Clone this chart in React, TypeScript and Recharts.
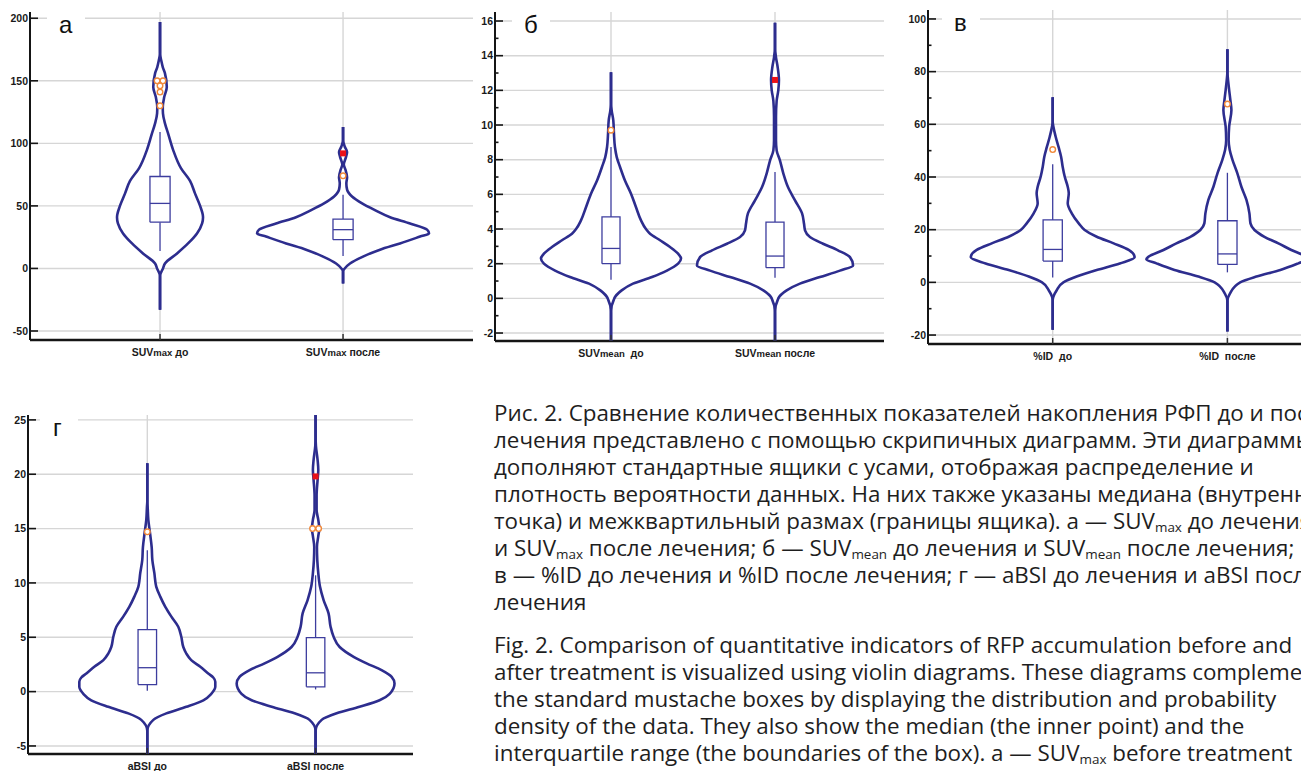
import React from 'react';
import { ScatterChart, Scatter, XAxis, YAxis, CartesianGrid } from 'recharts';

type Profile = [number, number][]; // [value, half-width in category units]
type Stats = [number, number, number, number, number]; // whisker lo, q1, median, q3, whisker hi
type Points = [number, number][]; // [x jitter, value]

// ---- panel а: SUVmax ----
const suvMaxLabels = [['SUV', 'max', ' до'], ['SUV', 'max', ' после']];
const suvMaxTicks = [-50, 0, 50, 100, 150, 200];
const suvMaxBefore: Profile = [
  [-33, 0], [-6, 0], [0, 0.016], [4, 0.027], [12, 0.093], [20, 0.153], [28, 0.202], [36, 0.23], [41, 0.235],
  [50, 0.219], [60, 0.191], [70, 0.164], [80, 0.115], [95, 0.071], [108, 0.044], [116, 0.027], [124, 0.016],
  [129, 0.015], [137, 0.023], [145, 0.037], [156, 0.027], [161, 0.015], [166, 0.007], [172, 0], [197, 0],
];
const suvMaxAfter: Profile = [
  [-12, 0], [-2, 0], [0, 0.009], [4, 0.038], [9.5, 0.109], [15, 0.202], [20, 0.311], [25.5, 0.421], [28, 0.47],
  [31, 0.459], [36, 0.366], [41, 0.257], [47, 0.169], [52, 0.104], [57.5, 0.049], [63, 0.022], [68, 0.018],
  [73, 0.022], [79, 0.013], [83, 0.004], [89, 0.016], [93, 0.022], [97.5, 0.009], [103, 0], [113, 0],
];
const suvMaxStats: Stats[] = [[14, 37, 52, 73.5, 109], [10, 23, 31, 39.5, 59]];
const suvMaxOutliers: Points[] = [[[-0.016, 150], [0.016, 150], [0, 146], [0, 141], [0, 130]], [[0, 74]]];
const suvMaxMarked: Points[] = [[], [[0, 92]]];

// ---- panel б: SUVmean ----
const suvMeanLabels = [['SUV', 'mean', '  до'], ['SUV', 'mean', ' после']];
const suvMeanTicks = [-2, 0, 2, 4, 6, 8, 10, 12, 14, 16];
const suvMeanMinor = [-1, 1, 3, 5, 7, 9, 11, 13, 15];
const suvMeanBefore: Profile = [
  [-2.46, 0], [-0.8, 0], [0, 0.02], [0.46, 0.065], [0.85, 0.134], [1.23, 0.25], [1.6, 0.341], [2.0, 0.409],
  [2.3, 0.427], [2.58, 0.409], [2.96, 0.36], [3.35, 0.299], [3.73, 0.238], [4.0, 0.213], [4.5, 0.183],
  [5.27, 0.152], [6.04, 0.122], [6.8, 0.085], [7.58, 0.055], [8.15, 0.035], [8.73, 0.024], [9.5, 0.018],
  [10.27, 0.014], [10.85, 0.004], [11.3, 0], [13.05, 0],
];
const suvMeanAfter: Profile = [
  [-2.46, 0], [-0.8, 0], [0, 0.02], [0.46, 0.071], [0.85, 0.152], [1.23, 0.274], [1.6, 0.396], [1.9, 0.476],
  [2.38, 0.457], [2.77, 0.384], [3.15, 0.293], [3.54, 0.213], [3.92, 0.183], [4.3, 0.177], [4.9, 0.165],
  [5.65, 0.122], [6.42, 0.079], [7.2, 0.051], [7.96, 0.03], [8.54, 0.01], [9.1, 0.006], [10.46, 0.006],
  [11.4, 0.01], [12, 0.02], [12.6, 0.024], [13.35, 0.016], [13.9, 0.006], [14.5, 0], [15.9, 0],
];
const suvMeanStats: Stats[] = [[1.08, 2.0, 2.88, 4.7, 8.73], [1.19, 1.77, 2.44, 4.4, 7.29]];
const suvMeanOutliers: Points[] = [[[0, 9.7]], []];
const suvMeanMarked: Points[] = [[], [[0, 12.6]]];

// ---- panel в: %ID ----
const idLabels = [['%ID  до'], ['%ID  после']];
const idTicks = [-20, 0, 20, 40, 60, 80, 100];
const idMinor = [-10, 10, 30, 50, 70, 90];
const idBefore: Profile = [
  [-18, 0], [-6.7, 0], [-3, 0.023], [0, 0.061], [2.2, 0.137], [4.7, 0.252], [7.2, 0.384], [9.5, 0.469],
  [12.3, 0.435], [14.8, 0.349], [17.3, 0.252], [19.9, 0.183], [22.4, 0.149], [26.2, 0.109], [30, 0.086],
  [33.8, 0.092], [36.3, 0.086], [40.1, 0.069], [43.9, 0.057], [47.7, 0.048], [51.5, 0.033], [55.3, 0.017],
  [59.1, 0.004], [61, 0], [70.3, 0],
];
const idAfter: Profile = [
  [-18.7, 0], [-7, 0], [-4.2, 0.015], [0, 0.073], [2.2, 0.166], [4.7, 0.303], [7.2, 0.406], [8.8, 0.464],
  [9.7, 0.452], [12.3, 0.366], [14.8, 0.292], [17.3, 0.212], [19.9, 0.155], [22.4, 0.132], [26.2, 0.126],
  [31.3, 0.109], [36.3, 0.08], [41.4, 0.057], [46.5, 0.029], [50.3, 0.013], [54, 0.007], [59.1, 0.01],
  [65.4, 0.023], [69.2, 0.017], [73, 0.01], [78, 0.002], [80, 0], [88.5, 0],
];
const idStats: Stats[] = [[1.8, 8.1, 12.5, 23.7, 44.8], [3.8, 6.8, 10.8, 23.4, 41.6]];
const idOutliers: Points[] = [[[0, 50.4]], [[0, 67.7]]];

// ---- panel г: aBSI ----
const bsiLabels = [['aBSI до'], ['aBSI после']];
const bsiTicks = [-5, 0, 5, 10, 15, 20, 25];
const bsiBefore: Profile = [
  [-5.74, 0], [-3.6, 0], [-2.6, 0.036], [-2, 0.113], [-1.4, 0.232], [-0.8, 0.333], [-0.2, 0.38], [0.44, 0.404],
  [0.9, 0.404], [1.3, 0.392], [1.67, 0.362], [2.28, 0.315], [2.9, 0.261], [3.5, 0.232], [4.1, 0.214],
  [5.05, 0.202], [5.97, 0.184], [6.9, 0.143], [7.8, 0.107], [8.74, 0.077], [9.66, 0.053], [10.9, 0.042],
  [12.1, 0.03], [13.3, 0.026], [14.6, 0.016], [15.8, 0.006], [17, 0.002], [17.5, 0], [21, 0],
];
const bsiAfter: Profile = [
  [-5.74, 0], [-3.6, 0], [-2.6, 0.036], [-2, 0.125], [-1.4, 0.261], [-0.8, 0.38], [-0.2, 0.44], [0.75, 0.469],
  [1.36, 0.452], [1.98, 0.392], [2.6, 0.303], [3.2, 0.226], [4.1, 0.143], [5.05, 0.107], [5.97, 0.089],
  [7.2, 0.077], [8.4, 0.048], [9.66, 0.026], [10.9, 0.016], [12.1, 0.01], [13.3, 0.008], [14.3, 0.016],
  [15, 0.022], [15.8, 0.016], [16.7, 0.006], [18, 0.006], [19.5, 0.012], [20.4, 0.016], [21.3, 0.012],
  [22.6, 0.002], [23.5, 0], [25.45, 0],
];
const bsiStats: Stats[] = [[0.07, 0.65, 2.2, 5.7, 13], [0.2, 0.44, 1.73, 4.96, 10.7]];
const bsiOutliers: Points[] = [[[0, 14.7]], [[-0.018, 15], [0.018, 15]]];
const bsiMarked: Points[] = [[], [[0, 19.8]]];

const captionRu = [
  'Рис. 2. Сравнение количественных показателей накопления РФП до и после',
  'лечения представлено с помощью скрипичных диаграмм. Эти диаграммы',
  'дополняют стандартные ящики с усами, отображая распределение и',
  'плотность вероятности данных. На них также указаны медиана (внутренняя',
  'точка) и межквартильный размах (границы ящика). а — SUV{max} до лечения',
  'и SUV{max} после лечения; б — SUV{mean} до лечения и SUV{mean} после лечения;',
  'в — %ID до лечения и %ID после лечения; г — aBSI до лечения и aBSI после',
  'лечения',
];
const captionEn = [
  'Fig. 2. Comparison of quantitative indicators of RFP accumulation before and',
  'after treatment is visualized using violin diagrams. These diagrams complement',
  'the standard mustache boxes by displaying the distribution and probability',
  'density of the data. They also show the median (the inner point) and the',
  'interquartile range (the boundaries of the box). а — SUV{max} before treatment',
];

const AXIS = '#151515';
const GRID = '#d6d6d6';
const VIOLIN = '#2d2d8e';
const BOX = '#3d3d9e';
const ORANGE = '#f0883a';
const RED = '#ea1018';
const BOX_W = 0.055;
const Y_W = 40;
const X_H = 30;
const TICK_FONT = "'Liberation Sans', Arial, sans-serif";
const CAPTION_FONT = "'Open Sans', 'Noto Sans', sans-serif";

type PanelSpec = {
  letter: string;
  letterX: number;
  coverX: [number, number];
  plot: [number, number, number, number]; // left, top, width, height
  xDomain: [number, number];
  yDomain: [number, number];
  ticks: number[];
  minor: number[];
  labels: string[][];
  profiles: Profile[];
  stats: Stats[];
  outliers: Points[];
  marked: Points[];
};

const panels: PanelSpec[] = [
  {
    letter: 'а', letterX: 59, coverX: [47, 85], plot: [30, 12, 443, 328],
    xDomain: [0.2896, 2.71], yDomain: [-57.2, 205], ticks: suvMaxTicks, minor: [], labels: suvMaxLabels,
    profiles: [suvMaxBefore, suvMaxAfter], stats: suvMaxStats, outliers: suvMaxOutliers, marked: suvMaxMarked,
  },
  {
    letter: 'б', letterX: 524, coverX: [512, 550], plot: [495, 12, 389, 329],
    xDomain: [0.2927, 2.6646], yDomain: [-2.46, 16.52], ticks: suvMeanTicks, minor: suvMeanMinor, labels: suvMeanLabels,
    profiles: [suvMeanBefore, suvMeanAfter], stats: suvMeanStats, outliers: suvMeanOutliers, marked: suvMeanMarked,
  },
  {
    letter: 'в', letterX: 954, coverX: [942, 980], plot: [928, 10, 412, 334],
    xDomain: [0.2862, 2.6445], yDomain: [-23.4, 103.4], ticks: idTicks, minor: idMinor, labels: idLabels,
    profiles: [idBefore, idAfter], stats: idStats, outliers: idOutliers, marked: [[], []],
  },
  {
    letter: 'г', letterX: 53, coverX: [40, 78], plot: [28, 415, 385, 339],
    xDomain: [0.2911, 2.5788], yDomain: [-5.74, 25.45], ticks: bsiTicks, minor: [], labels: bsiLabels,
    profiles: [bsiBefore, bsiAfter], stats: bsiStats, outliers: bsiOutliers, marked: bsiMarked,
  },
];

const Empty = () => <g />;

const OpenCircle = (p: any) => (
  <circle cx={p.cx} cy={p.cy} r={2.8} fill="#fff" stroke={ORANGE} strokeWidth={1.4} />
);
const RedSquare = (p: any) => <rect x={p.cx - 3} y={p.cy - 3} width={6} height={6} fill={RED} />;

function violinSeries(center: number, profile: Profile, stats: Stats, outliers: Points, marked: Points, key: string) {
  const right = profile.map(([y, w]) => ({ x: center + w, y }));
  const left = profile.map(([y, w]) => ({ x: center - w, y }));
  const outline = [...right, ...left.slice().reverse()];
  const [lo, q1, med, q3, hi] = stats;
  const box = [
    { x: center - BOX_W, y: q1 }, { x: center + BOX_W, y: q1 }, { x: center + BOX_W, y: q3 },
    { x: center - BOX_W, y: q3 }, { x: center - BOX_W, y: q1 },
  ];
  const thin = { stroke: BOX, strokeWidth: 1.3, fill: 'none' };
  const thick = { stroke: VIOLIN, strokeWidth: 2.6, fill: 'none' };
  return [
    <Scatter key={key + 'f'} data={outline} shape={Empty} line={{ stroke: 'none', fill: '#fff' }} isAnimationActive={false} />,
    <Scatter key={key + 'r'} data={right} shape={Empty} lineJointType="monotoneY" line={thick} isAnimationActive={false} />,
    <Scatter key={key + 'l'} data={left} shape={Empty} lineJointType="monotoneY" line={thick} isAnimationActive={false} />,
    <Scatter key={key + 'w1'} data={[{ x: center, y: lo }, { x: center, y: q1 }]} shape={Empty} line={thin} isAnimationActive={false} />,
    <Scatter key={key + 'w2'} data={[{ x: center, y: q3 }, { x: center, y: hi }]} shape={Empty} line={thin} isAnimationActive={false} />,
    <Scatter key={key + 'b'} data={box} shape={Empty} line={{ stroke: BOX, strokeWidth: 1.3, fill: '#fff' }} isAnimationActive={false} />,
    <Scatter key={key + 'm'} data={[{ x: center - BOX_W, y: med }, { x: center + BOX_W, y: med }]} shape={Empty} line={thin} isAnimationActive={false} />,
    <Scatter key={key + 'o'} data={outliers.map(([dx, y]) => ({ x: center + dx, y }))} shape={OpenCircle} isAnimationActive={false} />,
    <Scatter key={key + 'r2'} data={marked.map(([dx, y]) => ({ x: center + dx, y }))} shape={RedSquare} isAnimationActive={false} />,
  ];
}

function Panel({ spec }: { spec: PanelSpec }) {
  const [left, top, w, h] = spec.plot;
  const allTicks = [...spec.ticks, ...spec.minor].sort((a, b) => a - b);

  const yTick = (props: any) => {
    const { x, y, payload } = props;
    const major = spec.ticks.includes(payload.value);
    return (
      <g>
        <line x1={x} x2={x + (major ? 8 : 3.5)} y1={y} y2={y} stroke={AXIS} strokeWidth={1.6} />
        {major && (
          <text x={x - 2} y={y} dy={3.8} textAnchor="end" fontSize={10.5} fontWeight={700} fontFamily={TICK_FONT} fill="#1a1a1a">
            {payload.value}
          </text>
        )}
      </g>
    );
  };

  const xTick = (props: any) => {
    const { x, y, payload } = props;
    const parts = spec.labels[Math.round(payload.value) - 1] || [];
    return (
      <g>
        <line x1={x} x2={x} y1={y} y2={y - 6} stroke="#333" strokeWidth={1.5} />
        <text x={x} y={y + 16} textAnchor="middle" fontSize={10.5} fontWeight={700} fontFamily={TICK_FONT} fill="#1a1a1a" style={{ whiteSpace: 'pre' }}>
          <tspan>{parts[0]}</tspan>
          {parts[1] && <tspan fontSize={9.5}>{parts[1]}</tspan>}
          {parts[2] && <tspan>{parts[2]}</tspan>}
        </text>
      </g>
    );
  };

  return (
    <>
      <div style={{ position: 'absolute', left: left - Y_W, top }}>
        <ScatterChart width={Y_W + w} height={h + X_H} margin={{ top: 0, right: 0, bottom: 0, left: 0 }}>
          <CartesianGrid stroke={GRID} strokeWidth={1.4} horizontalValues={spec.ticks} verticalValues={[1, 2]} />
          <XAxis type="number" dataKey="x" domain={spec.xDomain} ticks={[1, 2]} allowDataOverflow interval={0}
            tickSize={0} tickMargin={0} tickLine={false} tick={xTick} height={X_H}
            axisLine={{ stroke: AXIS, strokeWidth: 2.5 }} />
          <YAxis type="number" dataKey="y" domain={spec.yDomain} ticks={allTicks} allowDataOverflow interval={0}
            tickSize={0} tickMargin={0} tickLine={false} tick={yTick} width={Y_W}
            axisLine={{ stroke: AXIS, strokeWidth: 2 }} />
          {spec.profiles.flatMap((p, i) =>
            violinSeries(i + 1, p, spec.stats[i], spec.outliers[i], spec.marked[i], spec.letter + i)
          )}
        </ScatterChart>
      </div>
      <div style={{ position: 'absolute', left: spec.coverX[0], top: top + 2, width: spec.coverX[1] - spec.coverX[0], height: 26, background: '#fff' }} />
      <div style={{ position: 'absolute', left: spec.letterX, top: top + 1, fontSize: 24, lineHeight: '24px', fontFamily: TICK_FONT, color: '#111' }}>
        {spec.letter}
      </div>
    </>
  );
}

function rich(line: string) {
  return line.split(/\{(\w+)\}/).map((part, i) =>
    i % 2 ? (
      <sub key={i} style={{ fontSize: '0.6em', lineHeight: 0, verticalAlign: '-0.25em' }}>{part}</sub>
    ) : (
      <React.Fragment key={i}>{part}</React.Fragment>
    )
  );
}

export default function App() {
  const lineStep = 27;
  const lines = [
    ...captionRu.map((l, i) => ({ l, y: 413 + i * lineStep })),
    ...captionEn.map((l, i) => ({ l, y: 645 + i * lineStep })),
  ];
  return (
    <div style={{ position: 'fixed', left: 0, top: 0, width: 1301, height: 771, overflow: 'hidden', background: '#fff' }}>
      {panels.map((p) => (
        <Panel key={p.letter} spec={p} />
      ))}
      {lines.map(({ l, y }, i) => (
        <div key={i} style={{ position: 'absolute', left: 494, top: y - 13, height: 26, lineHeight: '26px', whiteSpace: 'nowrap', fontSize: 22.4, fontFamily: CAPTION_FONT, color: '#1e1e1e' }}>
          {rich(l)}
        </div>
      ))}
    </div>
  );
}
